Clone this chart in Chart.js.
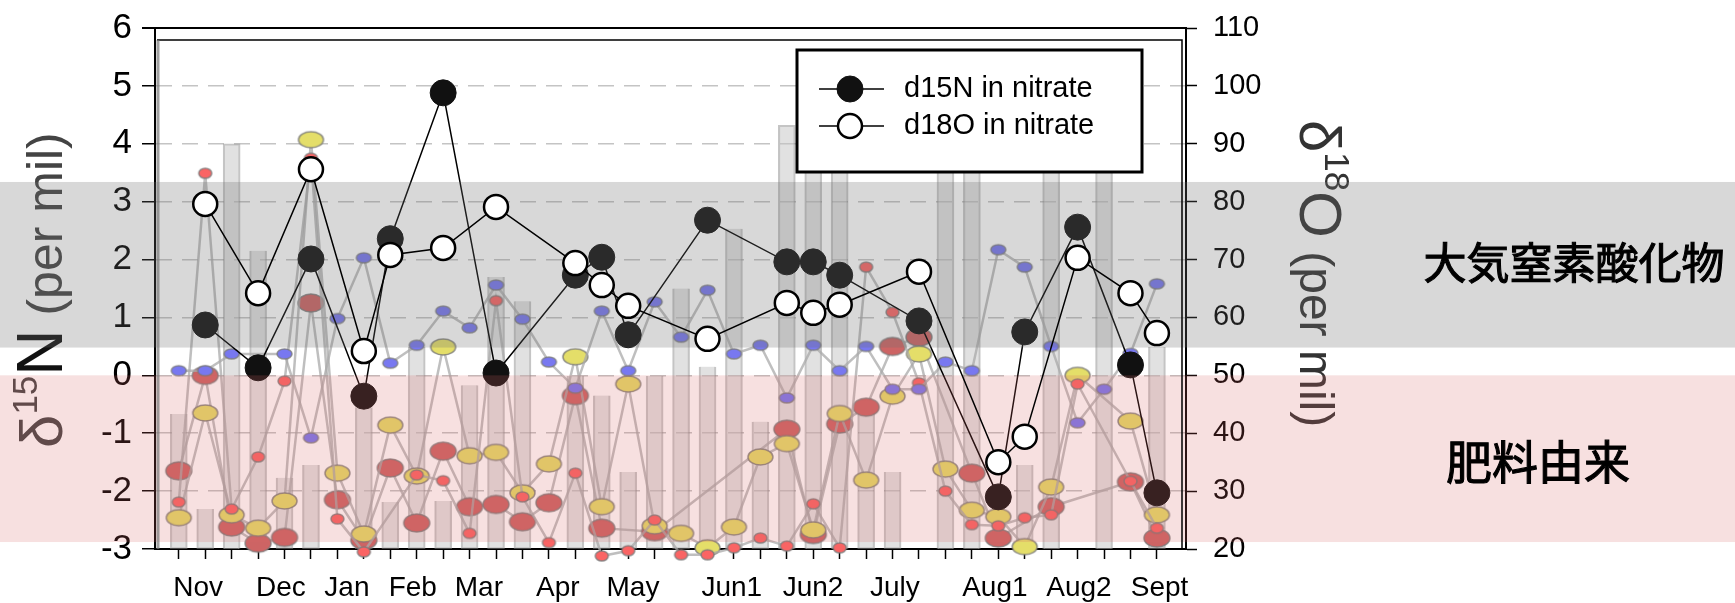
<!DOCTYPE html>
<html><head><meta charset="utf-8">
<script src="https://cdn.jsdelivr.net/npm/chart.js@4.4.1/dist/chart.umd.min.js"></script>
<style>html,body{margin:0;padding:0;background:#fff}#wrap{width:1735px;height:603px}</style>
</head><body><div id="wrap"><canvas id="c" width="1735" height="603"></canvas></div>
<script>
// ---------- data ----------
const monthLabels = ['Nov','Dec','Jan','Feb','Mar','Apr','May','Jun1','Jun2','July','Aug1','Aug2','Sept'];
const monthLabelPos = [0.73,3.86,6.36,8.85,11.35,14.34,17.18,20.92,23.99,27.09,30.87,34.05,37.1];
const sampleCount = 38;
const nitrateIdx = [1,3,5,7,8,10,12,15,16,17,20,23,24,25,28,31,32,34,36,37];
const d15N = [0.87,0.13,2.01,-0.36,2.36,4.88,0.04,1.73,2.04,0.70,2.68,1.96,1.96,1.73,0.94,-2.10,0.75,2.56,0.18,-2.03];
const d18O = [79.6,64.2,85.6,54.2,70.8,72.0,79.1,69.4,65.6,62.0,56.3,62.5,60.8,62.2,67.9,35.0,39.4,70.3,64.2,57.3];
const bgBlue = [0.08,0.08,0.37,null,0.37,-1.08,0.98,2.03,0.21,0.52,1.11,0.82,1.56,0.97,0.23,-0.22,1.11,0.08,1.27,0.66,1.47,0.37,0.52,-0.39,0.52,0.08,0.5,-0.24,-0.24,0.23,0.08,2.17,1.87,0.5,-0.82,-0.24,0.38,1.58];
const bgRed = [-2.19,3.49,-2.31,-1.41,-0.1,3.75,-2.48,-3.05,null,-1.72,-1.82,-2.73,1.29,-2.1,-2.89,-1.69,-3.12,-3.03,-2.5,-3.1,-3.1,-2.98,-2.81,-2.95,-2.22,-2.98,1.87,1.09,-0.13,-2.0,-2.58,-2.6,-2.46,-2.41,-0.15,null,-1.83,-2.64];
const bgYellow = [-2.46,-0.65,-2.41,-2.64,-2.17,4.07,-1.69,-2.74,-0.86,-1.74,0.49,-1.39,-1.33,-2.03,-1.53,0.32,-2.27,-0.15,-2.6,-2.73,-2.98,-2.62,-1.41,-1.18,-2.67,-0.66,-1.81,-0.36,0.37,-1.62,-2.33,-2.44,-2.96,-1.93,0.0,null,-0.79,-2.41];
const bgRosy = [-1.65,0.0,-2.62,-2.9,-2.8,1.25,-2.15,-2.85,-1.6,-2.55,-1.31,-2.27,-2.23,-2.53,-2.2,-0.35,-2.64,null,-2.7,null,null,null,null,-0.93,-2.75,-0.84,-0.55,0.5,0.66,null,-1.69,-2.81,null,-2.27,null,null,-1.84,-2.81];
const bgBars = [-0.67,-2.31,4.0,2.15,-1.77,-1.55,null,-0.55,-2.19,0.49,-2.17,-0.17,1.7,1.28,null,0.0,-0.35,-1.67,0.0,1.5,0.15,2.53,-0.8,4.32,4.0,4.0,-0.6,-1.67,null,4.0,4.0,null,-1.55,4.0,null,4.0,null,0.49];
const barBase = -3;
const atmosBand = [0.48, 3.34];
const fertBand = [-2.88, 0];
const bandLabels = ['大気窒素酸化物', '肥料由来'];
const leftTicks = {min: -3, max: 6, step: 1};
const rightTicks = {min: 20, max: 110, step: 10};
const xRange = {min: -0.9, max: 38.1};

// ---------- helpers ----------
const FONT = "'Liberation Sans', Arial, sans-serif";
Chart.defaults.font.family = FONT;
function ellipse(w, h, fill, stroke) {
  const c = document.createElement('canvas'); const pad = 2;
  c.width = w + pad * 2; c.height = h + pad * 2;
  const g = c.getContext('2d');
  g.beginPath(); g.ellipse(c.width / 2, c.height / 2, w / 2, h / 2, 0, 0, Math.PI * 2);
  g.fillStyle = fill; g.fill(); g.lineWidth = 1.5; g.strokeStyle = stroke; g.stroke();
  return c;
}
const series = arr => arr.map((y, i) => (y === null ? null : {x: i, y})).filter(Boolean);
function bgLine(arr, img) {
  return { type: 'line', data: series(arr), xAxisID: 'x', yAxisID: 'y', borderColor: 'rgba(170,170,170,0.75)',
    borderWidth: 2.5, pointStyle: img, pointRadius: 8, spanGaps: true, clip: false, tension: 0 };
}
function drawRich(ctx, parts, x, y, angle) {
  ctx.save(); ctx.translate(x, y); ctx.rotate(angle); ctx.textBaseline = 'alphabetic'; ctx.textAlign = 'left';
  let cx = 0;
  for (const p of parts) { ctx.font = p.font; ctx.fillStyle = p.color; ctx.fillText(p.text, cx, -(p.rise || 0)); cx += ctx.measureText(p.text).width; }
  ctx.restore();
}
const noPad = s => { s.paddingTop = 0; s.paddingBottom = 0; };
function cjk(ctx, text, x, y, size) {
  ctx.font = `${size}px 'Noto Sans CJK JP'`;
  ctx.fillStyle = '#000'; ctx.strokeStyle = '#000'; ctx.lineWidth = 1.1;
  ctx.textAlign = 'center'; ctx.textBaseline = 'middle';
  ctx.fillText(text, x, y); ctx.strokeText(text, x, y);
}

const decor = {
  id: 'decor',
  beforeDatasetsDraw(chart) {
    const ctx = chart.ctx;
    drawRich(ctx, [
      {text: 'δ', font: `60px ${FONT}`, color: '#444'},
      {text: '15', font: `35px ${FONT}`, color: '#444', rise: 25},
      {text: 'N', font: `64px ${FONT}`, color: '#111'},
      {text: ' (per mil)', font: `50px ${FONT}`, color: '#444'}], 62, 448, -Math.PI / 2);
    drawRich(ctx, [
      {text: 'δ', font: `58px ${FONT}`, color: '#333'},
      {text: '18', font: `35px ${FONT}`, color: '#333', rise: 25},
      {text: 'O', font: `60px ${FONT}`, color: '#333'},
      {text: ' (per mil)', font: `48px ${FONT}`, color: '#333'}], 1300, 120, Math.PI / 2);
  },
  beforeDatasetDraw(chart, args) {
    if (args.index !== 0) return;
    const y = chart.scales.y, ctx = chart.ctx;
    ctx.save();
    let t = y.getPixelForValue(atmosBand[1]), b = y.getPixelForValue(atmosBand[0]);
    ctx.fillStyle = 'rgba(110,110,110,0.27)'; ctx.fillRect(0, t, chart.width, b - t);
    t = y.getPixelForValue(fertBand[1]); b = y.getPixelForValue(fertBand[0]);
    ctx.fillStyle = 'rgba(215,100,100,0.2)'; ctx.fillRect(0, t, chart.width, b - t);
    ctx.restore();
  },
  afterDraw(chart) {
    const ctx = chart.ctx, a = chart.chartArea;
    ctx.save();
    // frame
    ctx.strokeStyle = '#000'; ctx.lineWidth = 2;
    ctx.beginPath(); ctx.moveTo(a.left - 13, a.top); ctx.lineTo(a.right + 1, a.top); ctx.stroke();
    ctx.lineWidth = 1.5;
    ctx.beginPath(); ctx.moveTo(a.left + 2, a.top + 12); ctx.lineTo(a.right - 4, a.top + 12); ctx.lineTo(a.right - 4, a.bottom); ctx.stroke();
    ctx.strokeStyle = 'rgba(120,120,120,0.7)'; ctx.lineWidth = 3;
    ctx.beginPath(); ctx.moveTo(a.left + 3, a.top + 12); ctx.lineTo(a.left + 3, a.bottom); ctx.stroke();
    // legend
    ctx.fillStyle = '#fff'; ctx.fillRect(797, 50, 345, 122);
    ctx.strokeStyle = '#000'; ctx.lineWidth = 3; ctx.strokeRect(797, 50, 345, 122);
    const rows = [[chart.data.datasets[1], 89], [chart.data.datasets[0], 126]];
    for (const [ds, yy] of rows) {
      ctx.strokeStyle = '#000'; ctx.lineWidth = 1.5;
      ctx.beginPath(); ctx.moveTo(819, yy); ctx.lineTo(884, yy); ctx.stroke();
      ctx.beginPath(); ctx.arc(850, yy, ds.pointRadius, 0, Math.PI * 2);
      ctx.fillStyle = ds.pointBackgroundColor; ctx.fill();
      ctx.lineWidth = ds.pointBorderWidth; ctx.strokeStyle = ds.pointBorderColor; ctx.stroke();
      ctx.fillStyle = '#000'; ctx.font = `29px ${FONT}`; ctx.textBaseline = 'middle'; ctx.textAlign = 'left';
      ctx.fillText(ds.label, 904, yy);
    }
    // band annotations
    cjk(ctx, bandLabels[0], 1574, 263, 43);
    cjk(ctx, bandLabels[1], 1538, 462, 46);
    ctx.restore();
  }
};

const imgBlue = ellipse(15, 10, 'rgb(120,120,240)', 'rgba(120,120,120,0.8)');
const imgRed = ellipse(13, 10, 'rgb(250,100,100)', 'rgba(120,120,120,0.8)');
const imgYellow = ellipse(25, 16, 'rgb(228,222,105)', 'rgba(120,120,120,0.8)');
const imgRosy = ellipse(26, 18, 'rgb(205,100,100)', 'rgba(120,120,120,0.8)');

new Chart(document.getElementById('c'), {
  type: 'line',
  data: {
    datasets: [
      { label: 'd18O in nitrate', type: 'line', xAxisID: 'x', yAxisID: 'y2',
        data: nitrateIdx.map((x, k) => ({x, y: d18O[k]})),
        borderColor: '#000', borderWidth: 1.5, pointRadius: 12, pointBackgroundColor: '#fff',
        pointBorderColor: '#000', pointBorderWidth: 2.5, tension: 0, clip: false },
      { label: 'd15N in nitrate', type: 'line', xAxisID: 'x', yAxisID: 'y',
        data: nitrateIdx.map((x, k) => ({x, y: d15N[k]})),
        borderColor: '#000', borderWidth: 1.5, pointRadius: 13, pointBackgroundColor: '#111',
        pointBorderColor: '#111', pointBorderWidth: 1, tension: 0, clip: false },
      bgLine(bgBlue, imgBlue),
      bgLine(bgRed, imgRed),
      bgLine(bgYellow, imgYellow),
      bgLine(bgRosy, imgRosy),
      { type: 'bar', xAxisID: 'x', yAxisID: 'y',
        data: bgBars.map((v, i) => (v === null ? null : {x: i, y: [barBase, v]})).filter(Boolean),
        backgroundColor: 'rgba(195,195,195,0.5)', borderColor: 'rgba(140,140,140,0.5)', borderWidth: 1.5,
        barThickness: 17, grouped: false }
    ]
  },
  options: {
    responsive: false, animation: false, devicePixelRatio: 1,
    layout: { padding: { top: 28, left: 0, right: 0, bottom: 0 } },
    plugins: { legend: { display: false }, tooltip: { enabled: false } },
    scales: {
      x: { type: 'linear', position: 'bottom', min: xRange.min, max: xRange.max, offset: false,
        afterBuildTicks: s => { s.ticks = Array.from({length: sampleCount}, (_, i) => ({value: i})); },
        ticks: { display: false },
        grid: { drawOnChartArea: false, drawTicks: true, tickLength: 10, tickColor: '#000', tickWidth: 1.5, offset: false },
        border: { display: true, color: '#000', width: 2 },
        afterFit: s => { s.height = 12; } },
      xl: { type: 'linear', position: 'bottom', min: xRange.min, max: xRange.max, offset: false, weight: 1,
        afterBuildTicks: s => { s.ticks = monthLabelPos.map(v => ({value: v})); },
        ticks: { autoSkip: false, maxRotation: 0, minRotation: 0, padding: 10, color: '#000', font: { size: 28 },
          callback: (v, i) => monthLabels[i] },
        grid: { display: false, drawTicks: false },
        border: { display: false },
        afterFit: s => { s.height = 42; } },
      y: { type: 'linear', position: 'left', min: leftTicks.min, max: leftTicks.max,
        ticks: { stepSize: leftTicks.step, color: '#000', font: { size: 35 }, padding: 10 },
        grid: { color: '#c4c4c4', lineWidth: 1.5, tickLength: 13, tickColor: '#000', tickWidth: 1.5 },
        border: { display: true, color: '#000', width: 2, dash: [16, 10] },
        afterFit: s => { s.width = 155; noPad(s); } },
      y2: { type: 'linear', position: 'right', min: rightTicks.min, max: rightTicks.max,
        ticks: { stepSize: rightTicks.step, color: '#000', font: { size: 29 }, padding: 16 },
        grid: { drawOnChartArea: false, tickLength: 11, tickColor: '#000', tickWidth: 1.5 },
        border: { display: true, color: '#000', width: 2 },
        afterFit: s => { s.width = 549; noPad(s); } }
    }
  },
  plugins: [decor]
});
</script></body></html>
